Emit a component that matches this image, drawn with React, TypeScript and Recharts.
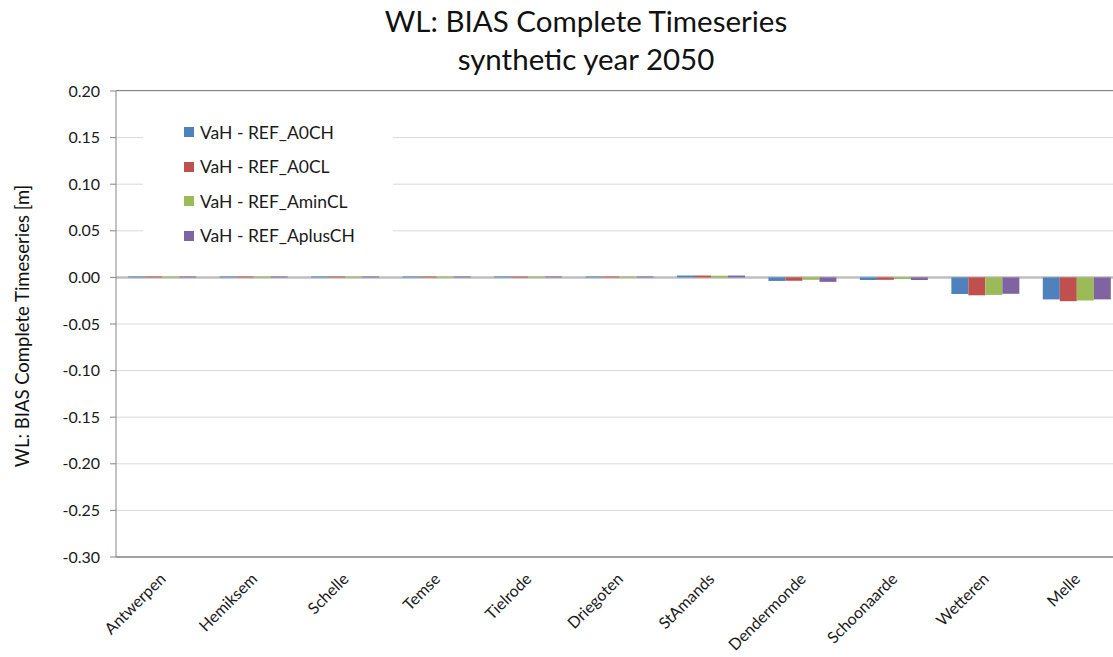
import { BarChart, Bar, XAxis, YAxis, CartesianGrid } from "recharts";

// WL bias per station, complete timeseries, synthetic year 2050
const stations = [
  "Antwerpen",
  "Hemiksem",
  "Schelle",
  "Temse",
  "Tielrode",
  "Driegoten",
  "StAmands",
  "Dendermonde",
  "Schoonaarde",
  "Wetteren",
  "Melle",
];

const a0ch = [0.001, 0.001, 0.001, 0.001, 0.001, 0.001, 0.002, -0.0038, -0.0028, -0.0178, -0.0236];
const a0cl = [0.001, 0.001, 0.001, 0.001, 0.001, 0.001, 0.002, -0.0036, -0.0026, -0.0192, -0.0255];
const aminCl = [0.001, 0.001, 0.001, 0.001, 0.001, 0.001, 0.0018, -0.0026, -0.0018, -0.0188, -0.0248];
const aplusCh = [0.001, 0.001, 0.001, 0.001, 0.001, 0.001, 0.002, -0.0048, -0.0028, -0.0176, -0.0236];

const yTicks = [0.2, 0.15, 0.1, 0.05, 0, -0.05, -0.1, -0.15, -0.2, -0.25, -0.3];
const zeroLine = [0];

const series = [
  { key: "a0ch", name: "VaH - REF_A0CH", color: "#4F81BD" },
  { key: "a0cl", name: "VaH - REF_A0CL", color: "#C0504D" },
  { key: "aminCl", name: "VaH - REF_AminCL", color: "#9BBB59" },
  { key: "aplusCh", name: "VaH - REF_AplusCH", color: "#8064A2" },
];

const rows = stations.map((station, i) => ({
  station,
  a0ch: a0ch[i],
  a0cl: a0cl[i],
  aminCl: aminCl[i],
  aplusCh: aplusCh[i],
}));

const FONT = "Lato, 'Open Sans', sans-serif";

// legend sits inside the plot on a white box that hides the grid lines
function LegendBox() {
  return (
    <div
      style={{
        position: "absolute",
        left: 143,
        top: 112,
        width: 250,
        height: 142,
        background: "#fff",
        fontFamily: FONT,
      }}
    >
      {series.map((s, i) => (
        <div
          key={s.key}
          style={{ position: "absolute", left: 41, top: 20 + i * 34.5 - 12, height: 24, display: "flex", alignItems: "center" }}
        >
          <div style={{ width: 10, height: 10, background: s.color, marginRight: 6 }} />
          <span style={{ fontSize: 17.5, color: "#1a1a1a", whiteSpace: "nowrap" }}>{s.name}</span>
        </div>
      ))}
    </div>
  );
}

export default function App() {
  return (
    <div
      style={{
        position: "absolute",
        left: 0,
        top: 0,
        width: 1113,
        height: 657,
        overflow: "hidden",
        background: "#fff",
        fontFamily: FONT,
      }}
    >
      {/* plot area runs a little past the right edge of the page */}
      <BarChart
        width={1122}
        height={657}
        data={rows}
        margin={{ top: 91, right: 0, bottom: 0, left: 0 }}
        barCategoryGap="13.4%"
        barGap={0}
        style={{ position: "absolute", left: 0, top: 0 }}
      >
        <CartesianGrid vertical={false} stroke="#d9d9d9" />
        <CartesianGrid vertical={false} horizontalValues={zeroLine} stroke="#bfbfbf" strokeWidth={2.5} />
        <XAxis
          dataKey="station"
          axisLine={{ stroke: "#868686", strokeWidth: 1.5 }}
          tickLine={false}
          interval={0}
          height={100}
          tick={{ fontSize: 16, fill: "#1a1a1a", fontFamily: FONT }}
          angle={-45}
          textAnchor="end"
          dx={-3}
          dy={7}
        />
        <YAxis
          type="number"
          domain={[-0.3, 0.2]}
          ticks={yTicks}
          width={116}
          allowDataOverflow
          tickFormatter={(v: number) => v.toFixed(2)}
          axisLine={{ stroke: "#868686" }}
          tickLine={{ stroke: "#868686" }}
          tickSize={6}
          tick={{ fontSize: 16, fill: "#1a1a1a", fontFamily: FONT, dx: -8 }}
        />
        {series.map((s) => (
          <Bar key={s.key} dataKey={s.key} name={s.name} fill={s.color} isAnimationActive={false} />
        ))}
      </BarChart>
      <div style={{ position: "absolute", left: 116, top: 90, width: 1000, height: 0, borderTop: "1.5px solid #868686" }} />
      <LegendBox />
      <div
        style={{
          position: "absolute",
          left: 0,
          width: 1172,
          top: 2,
          textAlign: "center",
          fontSize: 29.5,
          lineHeight: "38px",
          color: "#111",
        }}
      >
        WL: BIAS Complete Timeseries
        <br />
        synthetic year 2050
      </div>
      <div
        style={{
          position: "absolute",
          left: 22,
          top: 326,
          transform: "translate(-50%, -50%) rotate(-90deg)",
          whiteSpace: "nowrap",
          fontSize: 18.5,
          color: "#111",
        }}
      >
        WL: BIAS Complete Timeseries [m]
      </div>
    </div>
  );
}
